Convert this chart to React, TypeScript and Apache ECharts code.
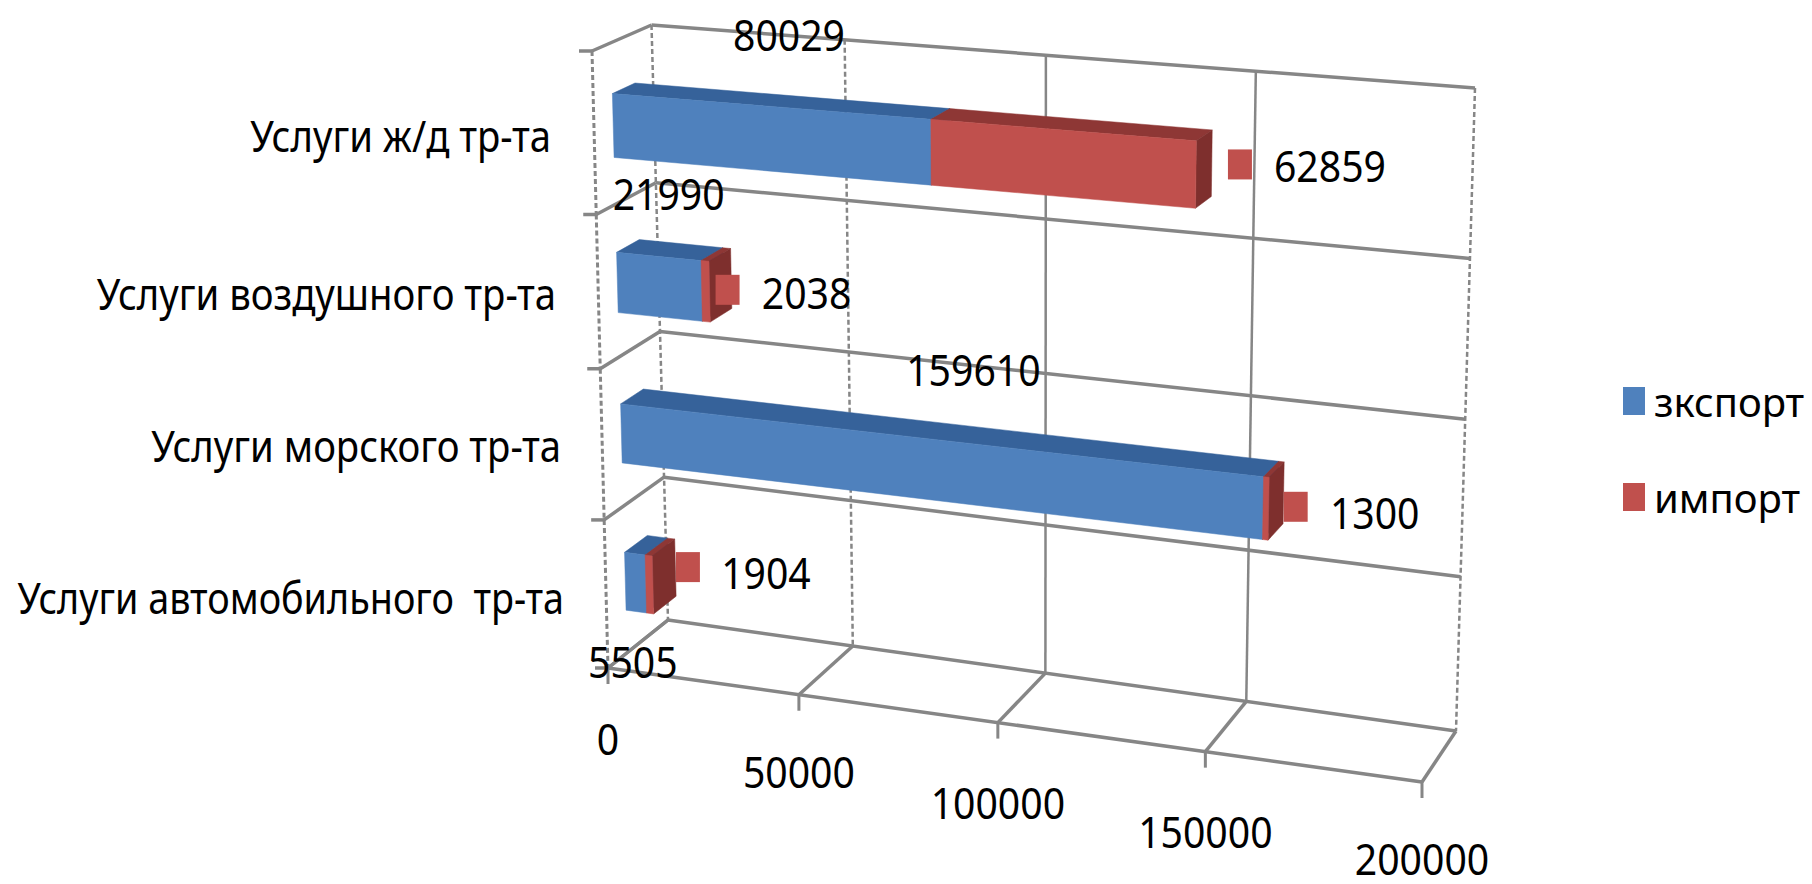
import React, { useEffect, useRef } from "react";
import * as echarts from "echarts";

const categories = ["Услуги ж/д тр-та", "Услуги воздушного тр-та", "Услуги морского тр-та", "Услуги автомобильного  тр-та"];
const exportValues = [80029, 21990, 159610, 5505];
const importValues = [62859, 2038, 1300, 1904];
const axisTicks = [0, 50000, 100000, 150000, 200000];
const seriesNames = ["зкспорт", "импорт"];

// layout of the drawn box (perspective frame)
const F_TL = [592, 51], F_TR = [1441, 115], F_BL = [608, 668], F_BR = [1422, 782];
const B_TL = [651.5, 25], B_TR = [1475, 88], B_BL = [668, 620], B_BR = [1456, 731];
const PERSP = 1.088;
const LEVELS = [0, 0.265, 0.515, 0.76, 1];
const BAR_D0 = 0.32, BAR_D1 = 0.7, BAR_A = 0.315, BAR_B = 0.71;
const GRID_COLOR = "#868686";
const FONT = "'Noto Sans', sans-serif";
const NUM_SIZE = 44, NUM_SX = 0.89;
const CAT_SIZE = 44;

const COLORS = [
  { front: "#4f81bd", top: "#36629a", side: "#36629a" },
  { front: "#c0504d", top: "#8e3735", side: "#7e2f2d" },
];

// offsets of the texts and small keys from their bar anchors
const catRight = [551, 556, 561, 564];
const catSx = [0.87, 0.87, 0.87, 0.858];
const catY = [135, 293, 445, 597];
const keyOffset = [[44, -8], [18, 0], [27, 0], [35, -16]];
const importLabelOffset = [[134, -8], [97, 2], [106, 5], [113, -12]];
const exportLabelOffset = [[20, -73], [10, -64], [42, -71], [-2, 107]];
const tickLabelDy = [70, 76, 79, 79, 76];
const tickDash = [[5, 3], [5, 3], null, null, [5, 3]];

const lerp = (a: number, b: number, f: number) => a + (b - a) * f;
const warpT = (t: number) => (t <= 0 ? 0 : t / (t + PERSP * (1 - t)));
const warpL = (l: number) => {
  const i = Math.min(3, Math.max(0, Math.floor(l)));
  return lerp(LEVELS[i], LEVELS[i + 1], l - i);
};
const bil = (tl: number[], tr: number[], bl: number[], br: number[], s: number, f: number) => {
  const a = [lerp(tl[0], tr[0], s), lerp(tl[1], tr[1], s)];
  const b = [lerp(bl[0], br[0], s), lerp(bl[1], br[1], s)];
  return [lerp(a[0], b[0], f), lerp(a[1], b[1], f)];
};
// t: 0..1 along the value axis, l: 0..4 down the categories, d: 0 front .. 1 back
const project = (t: number, l: number, d: number) => {
  const s = warpT(t), f = warpL(l);
  const p = bil(F_TL, F_TR, F_BL, F_BR, s, f);
  const q = bil(B_TL, B_TR, B_BL, B_BR, s, f);
  return [lerp(p[0], q[0], d), lerp(p[1], q[1], d)];
};

const scales = (params: any, api: any) => {
  const cs = params.coordSys;
  const band = cs.height / categories.length;
  return {
    t: (v: number) => (api.coord([v, 0])[0] - cs.x) / cs.width,
    l: (i: number, frac: number) => (api.coord([0, i])[1] - band / 2 + frac * band - cs.y) / band,
  };
};

const line = (a: number[], b: number[], w: number, dash?: number[] | null) => ({
  type: "line",
  shape: { x1: a[0], y1: a[1], x2: b[0], y2: b[1] },
  style: { stroke: GRID_COLOR, lineWidth: w, lineDash: dash || undefined },
});
const label = (text: string, x: number, y: number) => ({
  type: "text",
  x,
  y,
  scaleX: NUM_SX,
  style: { text, x: 0, y: 0, fill: "#000", fontSize: NUM_SIZE, lineHeight: 36, fontFamily: FONT, align: "center", verticalAlign: "middle" },
});

const renderTick = (params: any, api: any) => {
  const { t: T } = scales(params, api);
  const v = api.value(0);
  const idx = axisTicks.indexOf(v);
  const t = T(v);
  const fb = project(t, 4, 0), bb = project(t, 4, 1), bt = project(t, 0, 1);
  return {
    type: "group",
    children: [
      line(bt, bb, 2.5, tickDash[idx]),
      line(bb, fb, 3.5),
      line(fb, [fb[0], fb[1] + 16], 3),
      label(String(v), fb[0], fb[1] + tickLabelDy[idx]),
    ],
  };
};

const renderLevel = (params: any, api: any) => {
  const { t: T, l: L } = scales(params, api);
  const i = api.value(1);
  const t0 = T(0), t1 = T(axisTicks[axisTicks.length - 1]);
  const out: any[] = [];
  const levels = i === categories.length - 1 ? [L(i, 0), L(i, 1)] : [L(i, 0)];
  levels.forEach((l: number) => {
    const fl = project(t0, l, 0), bl = project(t0, l, 1), br = project(t1, l, 1);
    out.push(line([fl[0] - 13, fl[1]], fl, 3.5), line(fl, bl, 3.5), line(bl, br, 3.5));
    if (l > 3.5) {
      const fr = project(t1, l, 0);
      out.push(line(fl, fr, 3.5));
    }
  });
  // edges of the left wall
  const a = project(t0, L(i, 0), 0), b = project(t0, L(i, 1), 0);
  out.push(line(a, b, 3, [5, 3]));
  out.push({
    type: "text",
    x: catRight[i],
    y: catY[i],
    scaleX: catSx[i],
    style: { text: categories[i], x: 0, y: 0, fill: "#000", fontSize: CAT_SIZE, fontFamily: FONT, align: "right", verticalAlign: "middle" },
  });
  return { type: "group", children: out };
};

const renderBar = (seriesIdx: number) => (params: any, api: any) => {
  const { t: T, l: L } = scales(params, api);
  const i = api.value(2);
  const t0 = T(api.value(0)), t1 = T(api.value(1));
  const l0 = L(i, BAR_A), l1 = L(i, BAR_B);
  const c = COLORS[seriesIdx];
  const poly = (pts: number[][], fill: string) => ({
    type: "polygon",
    shape: { points: pts },
    style: { fill, stroke: fill, lineWidth: 0.5 },
  });
  const children: any[] = [
    poly([project(t0, l0, BAR_D0), project(t1, l0, BAR_D0), project(t1, l0, BAR_D1), project(t0, l0, BAR_D1)], c.top),
    poly([project(t1, l0, BAR_D0), project(t1, l0, BAR_D1), project(t1, l1, BAR_D1), project(t1, l1, BAR_D0)], c.side),
    poly([project(t0, l0, BAR_D0), project(t1, l0, BAR_D0), project(t1, l1, BAR_D0), project(t0, l1, BAR_D0)], c.front),
  ];
  return { type: "group", children };
};

const renderLabels = (params: any, api: any) => {
  const { t: T, l: L } = scales(params, api);
  const i = api.value(2);
  const ex = api.value(0), im = api.value(1);
  const mid = project(T(ex / 2), L(i, BAR_A), BAR_D0);
  const end = project(T(ex + im), L(i, 0.5), BAR_D0);
  const k = [end[0] + keyOffset[i][0], end[1] + keyOffset[i][1]];
  return {
    type: "group",
    children: [
      { type: "rect", shape: { x: k[0] - 12, y: k[1] - 15, width: 24, height: 30 }, style: { fill: COLORS[1].front } },
      label(String(im), end[0] + importLabelOffset[i][0], end[1] + importLabelOffset[i][1]),
      label(String(ex), mid[0] + exportLabelOffset[i][0], mid[1] + exportLabelOffset[i][1]),
    ],
  };
};

export default function App() {
  const ref = useRef<HTMLDivElement>(null);
  useEffect(() => {
    const chart = echarts.init(ref.current!, undefined, { renderer: "svg" });
    const catIdx = categories.map((_, i) => i);
    const custom = { type: "custom", coordinateSystem: "cartesian2d", clip: false, silent: true };
    chart.setOption({
      animation: false,
      backgroundColor: "#fff",
      grid: { left: 0, right: 0, top: 0, bottom: 0 },
      xAxis: { type: "value", min: 0, max: 200000, interval: 50000, show: false },
      yAxis: { type: "category", data: categories, inverse: true, show: false },
      legend: {
        data: seriesNames,
        orient: "vertical",
        left: 1623,
        top: 381,
        padding: 0,
        itemWidth: 22,
        itemHeight: 28,
        itemGap: 56,
        icon: "rect",
        textStyle: { fontFamily: FONT, fontSize: 40, lineHeight: 28, color: "#000", padding: [0, 0, 0, 4] },
      },
      series: [
        { ...custom, id: "levels", z: 1, data: catIdx.map((i) => [0, i]), encode: { x: 0, y: 1 }, renderItem: renderLevel },
        { ...custom, id: "ticks", z: 1, data: axisTicks.map((v) => [v, 0]), encode: { x: 0, y: 1 }, renderItem: renderTick },
        {
          ...custom,
          name: seriesNames[0],
          z: 2,
          itemStyle: { color: COLORS[0].front },
          data: catIdx.map((i) => [0, exportValues[i], i]),
          encode: { x: [0, 1], y: 2 },
          renderItem: renderBar(0),
        },
        {
          ...custom,
          name: seriesNames[1],
          z: 3,
          itemStyle: { color: COLORS[1].front },
          data: catIdx.map((i) => [exportValues[i], exportValues[i] + importValues[i], i]),
          encode: { x: [0, 1], y: 2 },
          renderItem: renderBar(1),
        },
        {
          ...custom,
          id: "labels",
          z: 4,
          data: catIdx.map((i) => [exportValues[i], importValues[i], i]),
          encode: { x: 0, y: 2 },
          renderItem: renderLabels,
        },
      ],
    });
    return () => chart.dispose();
  }, []);
  return <div ref={ref} style={{ position: "fixed", left: 0, top: 0, width: 1812, height: 884 }} />;
}
